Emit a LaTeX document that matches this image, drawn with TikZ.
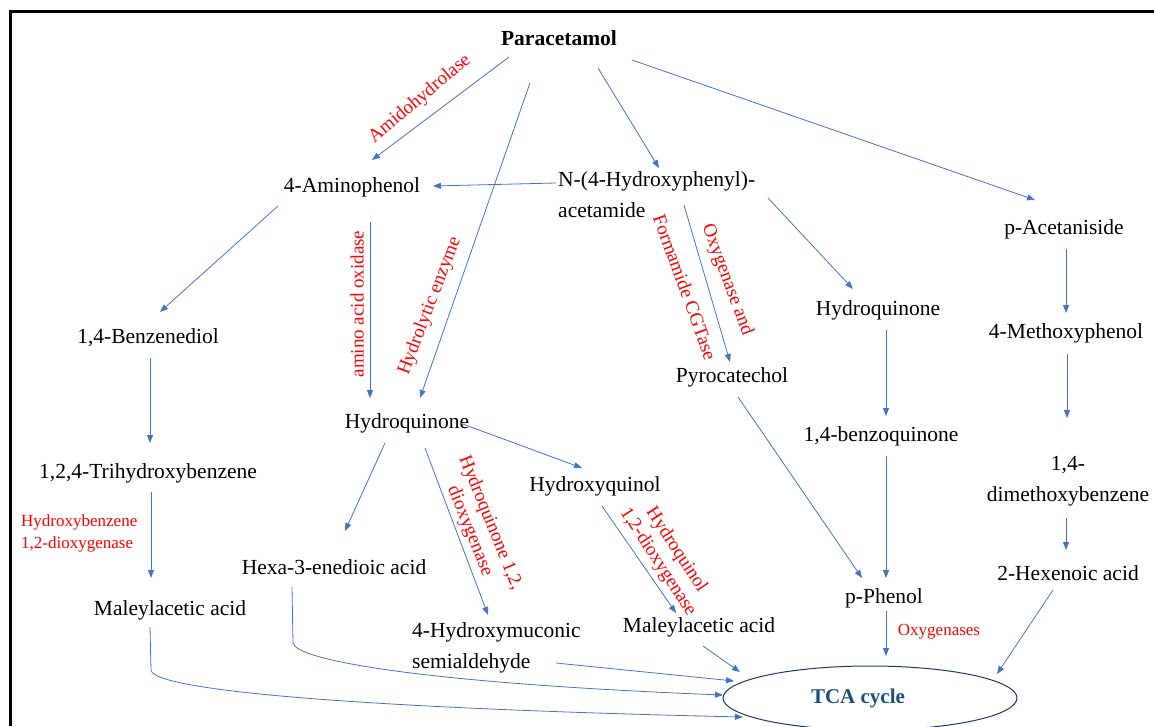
\documentclass[tikz,border=0pt]{standalone}
\usepackage{fontspec}
\setmainfont{Liberation Serif}
\usetikzlibrary{arrows.meta,calc,shapes.geometric}
\definecolor{arr}{HTML}{4472C4}
\definecolor{tcatext}{HTML}{1F4E79}
\definecolor{ellc}{HTML}{1F3864}
\begin{document}
\begin{tikzpicture}[x=1pt,y=-1pt,
 chem/.style={font=\fontsize{21.5}{31}\selectfont, inner sep=1pt, text=black},
 enz/.style={font=\fontsize{17}{22}\selectfont, inner sep=0pt, text=red},
 renz/.style={font=\fontsize{19}{22}\selectfont, inner sep=0pt, text=red, align=center},
 arw/.style={draw=arr, line width=0.8pt, -{Triangle[length=8pt,width=6pt]}}]
\useasboundingbox (0,0) rectangle (1154,726);
\draw[line width=3pt] (10,726) -- (10,11.5) -- (1154,11.5);

% chemicals
\node[chem,font=\fontsize{21.5}{31}\selectfont\bfseries] (par) at (559,38) {Paracetamol};
\node[chem] (amin) at (352,187) {4-Aminophenol};
\node[chem,anchor=west,align=left] (nacet) at (557,195) {N-(4-Hydroxyphenyl)-\\acetamide};
\node[chem] (pacet) at (1064,229) {p-Acetaniside};
\node[chem] (benz) at (148,338) {1,4-Benzenediol};
\node[chem] (hqr) at (878,310) {Hydroquinone};
\node[chem] (meth) at (1066,333) {4-Methoxyphenol};
\node[chem] (pyro) at (732,377) {Pyrocatechol};
\node[chem] (hqm) at (407,423) {Hydroquinone};
\node[chem] (bq) at (881,436) {1,4-benzoquinone};
\node[chem,align=center] (dimeth) at (1068,481) {1,4-\\dimethoxybenzene};
\node[chem] (tri) at (148,473) {1,2,4-Trihydroxybenzene};
\node[chem] (hxq) at (595,486) {Hydroxyquinol};
\node[chem] (hexa) at (334,567) {Hexa-3-enedioic acid};
\node[chem] (hex2) at (1068,573) {2-Hexenoic acid};
\node[chem] (mall) at (170,610) {Maleylacetic acid};
\node[chem] (pphen) at (884,598) {p-Phenol};
\node[chem] (malr) at (699,627) {Maleylacetic acid};
\node[chem,anchor=west,align=left] (hmuc) at (411,648) {4-Hydroxymuconic\\semialdehyde};
\node[draw=ellc, line width=1pt, ellipse, minimum width=294pt, minimum height=64pt, inner sep=0pt] (tca) at (870,698) {};
\node[font=\fontsize{21}{24}\selectfont\bfseries, text=tcatext, inner sep=0pt] (tcal) at (858,698) {TCA cycle};

% enzymes
\node[renz, rotate=40] (e1) at (420,99) {Amidohydrolase};
\node[renz, rotate=90] (e2) at (357,304) {amino acid oxidase};
\node[renz, rotate=69] (e3) at (430,306) {Hydrolytic enzyme};
\node[renz, rotate=-70] (e4) at (685,287) {Formamide CGTase};
\node[renz, rotate=-69.5] (e5) at (727,280) {Oxygenase and};
\node[renz, rotate=-68] (e6) at (480,527) {Hydroquinone 1,2,\\dioxygenase};
\node[renz, rotate=-57] (e7) at (667,556) {Hydroquinol\\1,2-dioxygenase};
\node[enz, anchor=west, align=left] (e8) at (21,533) {Hydroxybenzene\\1,2-dioxygenase};
\node[enz] (e9) at (939,632) {Oxygenases};

% arrows
\draw[arw] ($(par)+(-50,19)$) -- ($(amin)+(20,-27)$);
\draw[arw] ($(par)+(-29,45)$) -- ($(hqm)+(13,-25)$);
\draw[arw] ($(par)+(39,30)$) -- ($(nacet.west)+(102,-27)$);
\draw[arw] ($(par)+(73,22)$) -- ($(pacet)+(-29,-29)$);
\draw[arw] ($(nacet.west)+(-1,-12)$) -- ($(amin)+(81,-1)$);
\draw[arw] ($(amin)+(-74,19)$) -- ($(benz)+(12,-26)$);
\draw[arw] ($(amin)+(18,35)$) -- ($(hqm)+(-37,-25)$);
\draw[arw] ($(nacet.west)+(127,10)$) -- ($(pyro)+(-2,-15)$);
\draw[arw] ($(nacet.west)+(211,3)$) -- ($(hqr)+(-25,-21)$);
\draw[arw] ($(pacet)+(2,20)$) -- ($(meth)+(0,-20)$);
\draw[arw] ($(hqr)+(8,20)$) -- ($(bq)+(5,-20)$);
\draw[arw] ($(meth)+(1,21)$) -- ($(dimeth)+(-1,-63)$);
\draw[arw] ($(benz)+(2,20)$) -- ($(tri)+(2,-30)$);
\draw[arw] ($(hqm)+(53,0)$) -- ($(hxq)+(-13,-18)$);
\draw[arw] ($(hqm)+(-22,20)$) -- ($(hexa)+(11,-36)$);
\draw[arw] ($(hqm)+(18,25)$) -- ($(hmuc.west)+(77,-33)$);
\draw[arw] ($(pyro)+(6,20)$) -- ($(pphen)+(-22,-20)$);
\draw[arw] ($(bq)+(5,20)$) -- ($(pphen)+(2,-20)$);
\draw[arw] ($(dimeth)+(-2,37)$) -- ($(hex2)+(-2,-23)$);
\draw[arw] ($(tri)+(3,19)$) -- ($(mall)+(-19,-32)$);
\draw[arw] ($(hxq)+(7,20)$) -- ($(malr)+(-23,-14)$);
\draw[arw] ($(pphen)+(2,13)$) -- ($(tca)+(16,-42)$);
\draw[arw] ($(hex2)+(-15,17)$) -- ($(tca)+(127,-24)$);
\draw[arw] ($(malr)+(4,19)$) -- ($(tca)+(-130,-26)$);
\draw[arw] ($(hmuc.west)+(145,15)$) -- ($(tca)+(-136,-17)$);
\draw[arw] ($(hexa)+(-42,20)$) -- ($(hexa)+(-41,76)$)
  .. controls ($(hexa)+(-38,93)$) and ($(hexa)+(86,116)$) .. ($(tca)+(-147,-3)$);
\draw[arw] ($(mall)+(-20,17)$) -- ($(mall)+(-19,60)$)
  .. controls ($(mall)+(-17,80)$) and ($(mall)+(180,98)$) .. ($(tca)+(-127,19)$);
\end{tikzpicture}
\end{document}
